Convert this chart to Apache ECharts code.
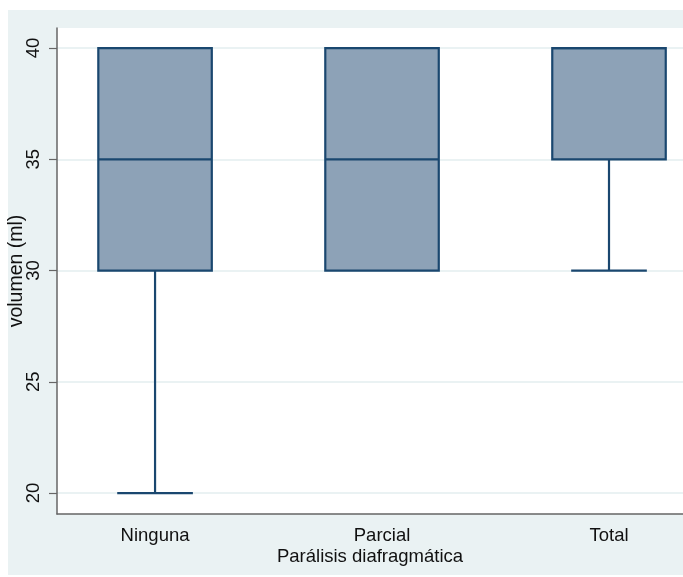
<!DOCTYPE html>
<html>
<head>
<meta charset="utf-8">
<script src="https://cdn.jsdelivr.net/npm/echarts@6/dist/echarts.min.js"></script>
<style>
html,body{margin:0;padding:0;background:#fff;}
#bg{position:absolute;left:8px;top:10px;width:675px;height:565px;background:#EAF2F3;}
#chart{position:absolute;left:0;top:0;width:683px;height:577px;}
</style>
</head>
<body>
<div id="bg"></div>
<div id="chart"></div>
<script>
const categories = ['Ninguna', 'Parcial', 'Total'];
const mins    = [20, 30, 30];
const q1s     = [30, 30, 35];
const medians = [35, 35, 40];
const q3s     = [40, 40, 40];
const maxs    = [40, 40, 40];
const yTicks  = [20, 25, 30, 35, 40];
const xPositions = [1, 2, 3];

const data = categories.map((c, i) => [xPositions[i], mins[i], q1s[i], medians[i], q3s[i], maxs[i]]);
const stroke = '#1a476f';
const fill = '#8DA2B7';

const chart = echarts.init(document.getElementById('chart'), null, {renderer: 'canvas'});
chart.setOption({
  backgroundColor: 'transparent',
  animation: false,
  grid: {left: 57, right: 0, top: 28, bottom: 63, show: true, backgroundColor: '#fff', borderWidth: 0,
         containLabel: false, outerBoundsMode: 'none'},
  xAxis: {
    type: 'value',
    min: 0.568,
    max: 3.326,
    name: 'Parálisis diafragmática',
    nameLocation: 'middle',
    nameGap: 33,
    nameMoveOverlap: false,
    nameTextStyle: {fontFamily: 'Liberation Sans', fontSize: 18.5, color: '#111'},
    axisLine: {lineStyle: {color: '#666', width: 1.5}},
    axisTick: {show: false},
    axisLabel: {fontFamily: 'Liberation Sans', fontSize: 18.5, color: '#111', margin: 12,
      customValues: xPositions,
      formatter: function (v) { const i = xPositions.indexOf(v); return i >= 0 ? categories[i] : ''; }},
    splitLine: {show: false}
  },
  yAxis: {
    type: 'value',
    min: 19.06,
    max: 40.9,
    name: 'volumen (ml)',
    nameLocation: 'middle',
    nameGap: 30,
    nameMoveOverlap: false,
    nameTextStyle: {fontFamily: 'Liberation Sans', fontSize: 19.5, color: '#111'},
    axisLine: {show: true, lineStyle: {color: '#666', width: 1.5}},
    axisTick: {show: true, length: 8, customValues: yTicks, lineStyle: {color: '#666', width: 1.2}},
    axisLabel: {fontFamily: 'Liberation Sans', fontSize: 18.5, color: '#111', rotate: 90, margin: 14, customValues: yTicks},
    splitLine: {show: true, lineStyle: {color: '#EAF2F3', width: 2}}
  },
  series: [{
    type: 'custom',
    data: data,
    encode: {x: 0, y: [1, 2, 3, 4, 5]},
    renderItem: function (params, api) {
      const x = api.value(0);
      const unit = api.size([1, 0])[0];
      const hw = unit * 0.25;
      const cw = unit * 0.1667;
      const pMin = api.coord([x, api.value(1)]);
      const pQ1 = api.coord([x, api.value(2)]);
      const pMed = api.coord([x, api.value(3)]);
      const pQ3 = api.coord([x, api.value(4)]);
      const pMax = api.coord([x, api.value(5)]);
      const cx = pMin[0];
      const ls = {stroke: stroke, lineWidth: 2.2};
      const children = [];
      if (api.value(1) < api.value(2)) {
        children.push({type: 'line', shape: {x1: cx, y1: pQ1[1], x2: cx, y2: pMin[1]}, style: ls});
        children.push({type: 'line', shape: {x1: cx - cw, y1: pMin[1], x2: cx + cw, y2: pMin[1]}, style: ls});
      }
      if (api.value(5) > api.value(4)) {
        children.push({type: 'line', shape: {x1: cx, y1: pQ3[1], x2: cx, y2: pMax[1]}, style: ls});
        children.push({type: 'line', shape: {x1: cx - cw, y1: pMax[1], x2: cx + cw, y2: pMax[1]}, style: ls});
      }
      children.push({type: 'rect', shape: {x: cx - hw, y: pQ3[1], width: hw * 2, height: pQ1[1] - pQ3[1]},
        style: {fill: fill, stroke: stroke, lineWidth: 2.2}});
      children.push({type: 'line', shape: {x1: cx - hw, y1: pMed[1], x2: cx + hw, y2: pMed[1]}, style: ls});
      return {type: 'group', children: children};
    }
  }]
});
</script>
</body>
</html>
